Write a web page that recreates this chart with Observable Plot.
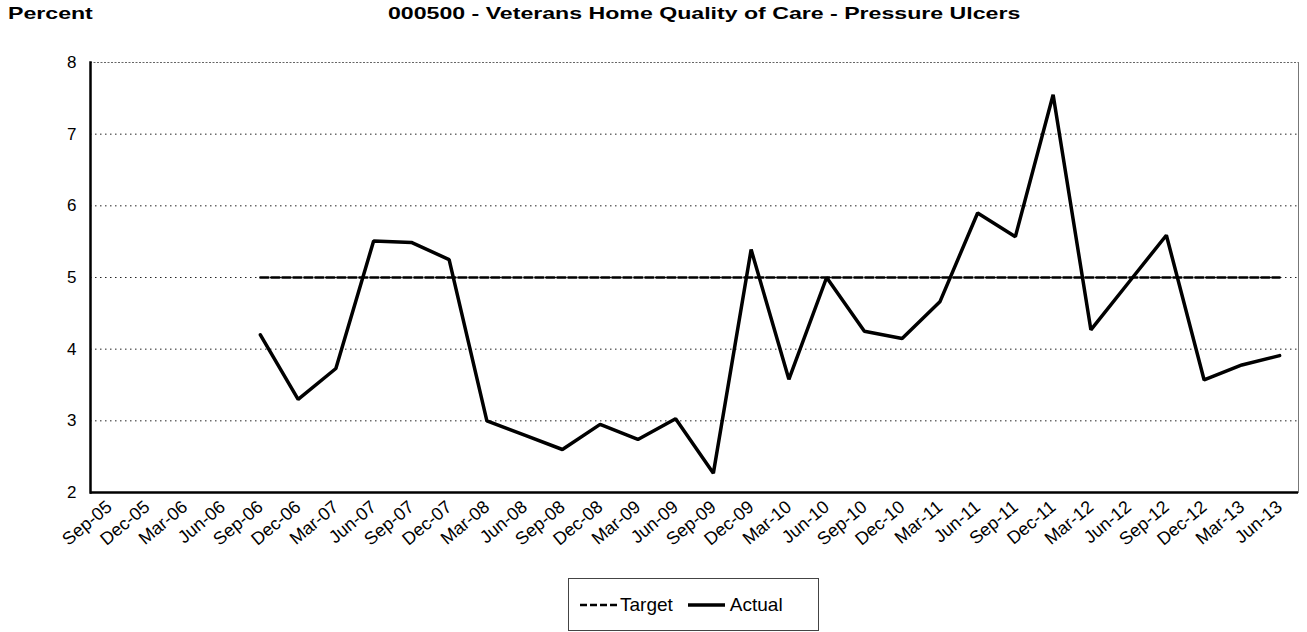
<!DOCTYPE html>
<html><head><meta charset="utf-8">
<script src="https://cdn.jsdelivr.net/npm/d3@7"></script>
<script src="https://cdn.jsdelivr.net/npm/@observablehq/plot@0.6"></script>
<style>
body{margin:0;background:#fff;font-family:"Liberation Sans",Arial,sans-serif;}
#wrap{position:relative;width:1307px;height:632px;overflow:hidden;}
#chart{position:absolute;left:0;top:0;}
.ttl{position:absolute;top:4px;font-weight:bold;font-size:17px;white-space:nowrap;transform-origin:left top;transform:scaleX(1.36);color:#000;}
#legend{position:absolute;left:568px;top:578px;width:249px;height:51px;border:1px solid #444;box-sizing:content-box;display:flex;align-items:center;font-size:19px;color:#000;}
#legend svg{display:block;}
</style></head><body>
<div id="wrap">
<div id="chart"></div>
<div class="ttl" style="left:8px">Percent</div>
<div class="ttl" style="left:388px">000500 - Veterans Home Quality of Care - Pressure Ulcers</div>
<div id="legend">
  <svg width="37" height="10" style="margin-left:11px"><line x1="0" y1="5" x2="37" y2="5" stroke="#000" stroke-width="2.5" stroke-dasharray="7,3"/></svg>
  <span style="margin-left:3px">Target</span>
  <svg width="37" height="10" style="margin-left:15px"><line x1="0" y1="5" x2="37" y2="5" stroke="#000" stroke-width="3.5"/></svg>
  <span style="margin-left:5px">Actual</span>
</div>
</div>
<script>
const quarters = ["Sep-05","Dec-05","Mar-06","Jun-06","Sep-06","Dec-06","Mar-07","Jun-07","Sep-07","Dec-07",
  "Mar-08","Jun-08","Sep-08","Dec-08","Mar-09","Jun-09","Sep-09","Dec-09","Mar-10","Jun-10",
  "Sep-10","Dec-10","Mar-11","Jun-11","Sep-11","Dec-11","Mar-12","Jun-12","Sep-12","Dec-12","Mar-13","Jun-13"];
const seriesStart = "Sep-06";
const actual = [4.20,3.30,3.73,5.51,5.49,5.25,3.00,2.80,2.60,2.95,2.74,3.03,2.27,5.39,3.58,5.00,
  4.25,4.15,4.66,5.90,5.57,7.55,4.27,4.93,5.59,3.57,3.78,3.91];
const target = [5,5,5,5,5,5,5,5,5,5,5,5,5,5,5,5,5,5,5,5,5,5,5,5,5,5,5,5];
const yTicks = [2,3,4,5,6,7,8];

const s0 = quarters.indexOf(seriesStart);
const actualData = actual.map((v,i)=>({q: quarters[s0+i], v}));
const targetData = target.map((v,i)=>({q: quarters[s0+i], v}));

const chart = Plot.plot({
  width:1307, height:632,
  marginLeft:90, marginRight:9, marginTop:62, marginBottom:140,
  style:{fontFamily:"Liberation Sans, Arial, sans-serif", fontSize:"16px", color:"#000", background:"transparent"},
  x:{type:"point", domain:quarters, padding:0.5, align:0.5, round:false, label:null},
  y:{domain:[2,8], label:null},
  marks:[
    Plot.frame({stroke:"#777", strokeWidth:1}),
    Plot.ruleY([8], {stroke:"#fff", strokeWidth:2}),
    Plot.ruleY(yTicks.filter(d=>d>2 && d<8), {stroke:"#222", strokeWidth:1, strokeDasharray:"1.5,3.5"}),
    Plot.ruleY([8], {stroke:"#666", strokeWidth:1.2, strokeDasharray:"2,1.5"}),
    Plot.axisY({ticks:yTicks, tickFormat:d3.format("d"), tickSize:0, tickPadding:14, fontSize:17, label:null}),
    Plot.axisX({tickRotate:-40, tickSize:0, tickPadding:12, fontSize:18, label:null}),
    Plot.line(targetData, {x:"q", y:"v", stroke:"#000", strokeWidth:2.5, strokeDasharray:"8,3"}),
    Plot.line(actualData, {x:"q", y:"v", stroke:"#000", strokeWidth:3.5, strokeLinejoin:"miter"}),
    Plot.ruleY([2], {stroke:"#000", strokeWidth:2.5}),
    Plot.frame({anchor:"left", stroke:"#000", strokeWidth:2.5})
  ]
});
document.getElementById("chart").appendChild(chart);
</script>
</body></html>
